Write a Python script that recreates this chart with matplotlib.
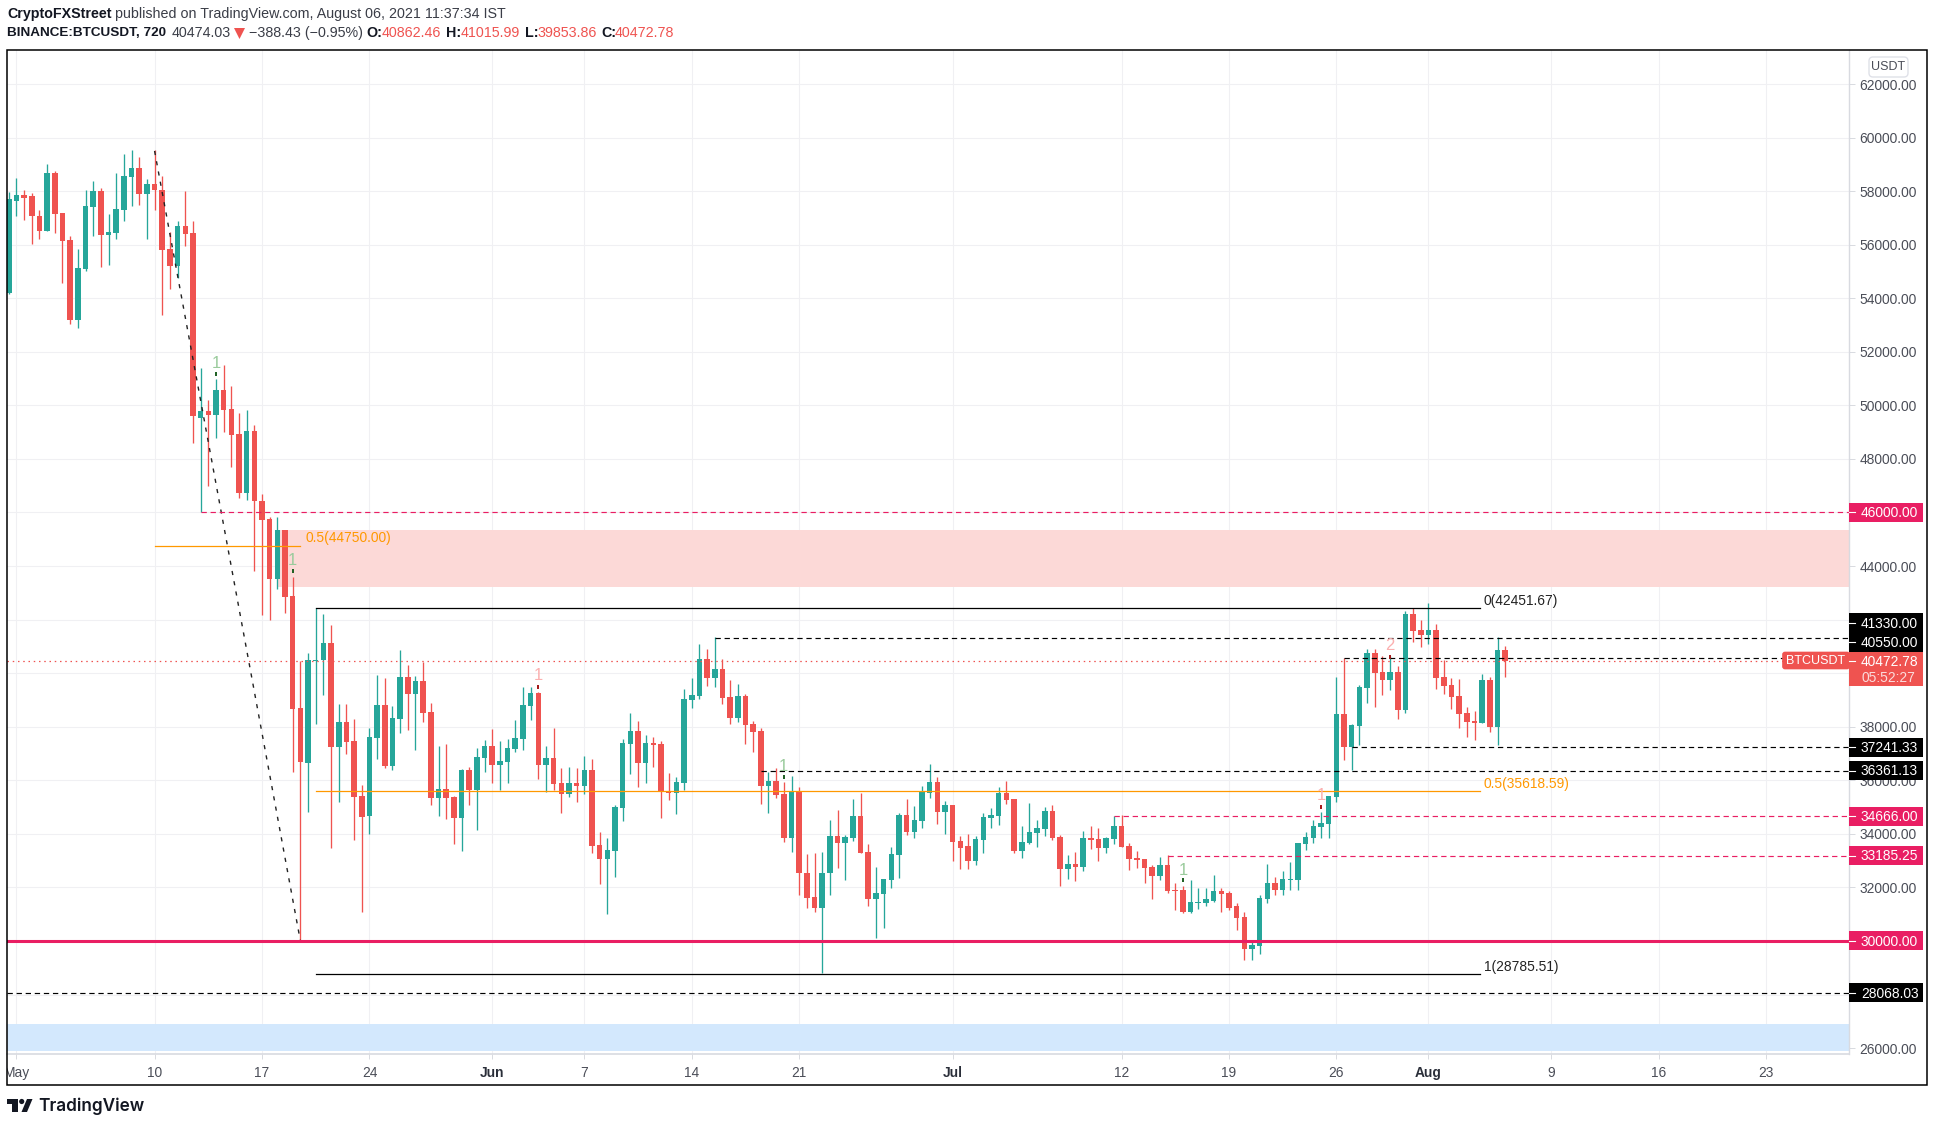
import matplotlib
matplotlib.use("Agg")
import matplotlib.pyplot as plt
from matplotlib.patches import Rectangle, FancyBboxPatch, Circle, Polygon

W, H = 1935, 1127
FONT = "Liberation Sans"
plt.rcParams["font.family"] = [FONT, "DejaVu Sans"]

opens = [54200,57650,57840,57800,57090,56530,58660,57170,56160,53180,55080,57390,57990,56350,56420,57280,58510,58880,57880,58250,
 58060,55830,55190,56680,56420,49530,49790,49640,50570,49870,48930,46730,49040,46420,45760,43530,45340,42880,38690,36640,
 40470,40490,41130,37240,38180,37470,35410,34670,37580,38810,36540,38280,39850,39230,39710,38550,35340,35670,35380,34600,
 36380,35620,36840,37280,36580,36690,37180,37550,38780,39270,36580,36840,35910,35500,35910,35800,36390,33600,33080,33370,
 34980,37360,37850,36660,37400,37360,35610,35540,35910,39000,39150,40530,39820,40160,39120,38330,39150,38110,37850,35800,
 35980,35500,33860,35610,32550,31660,31250,32520,33930,33670,33860,34680,33340,31580,31770,32290,33220,34720,34080,34490,
 35540,35950,34830,35090,33750,33530,33000,33780,34600,34670,35530,35310,33370,33670,34040,34190,34860,33890,32700,32890,
 32780,33850,33820,33480,33820,34300,33560,33110,33070,32780,32440,32850,31920,31920,31100,31400,31400,31510,31850,31810,
 31290,30880,29690,29800,31550,32180,31920,32290,32290,33630,33850,34260,34380,35380,38480,37230,38040,39450,40760,40050,
 39750,40050,38630,42210,41610,41430,41610,39860,39560,39150,38520,38220,38150,39750,38000,40862.46]
highs = [57960,58490,58060,57930,57280,59010,58770,57200,56310,55830,58060,58360,58100,57130,58660,59380,59520,59290,58440,59520,
 58580,56460,56870,57990,56900,51380,50200,50980,51500,50720,49700,49830,49270,46680,45830,45830,45340,43600,40470,40770,
 42450,42210,41800,38850,38850,38280,35820,37950,39920,39810,38770,40870,40300,39900,40400,38880,37280,37350,35410,36410,
 36510,37210,37500,37910,37480,37550,38260,39490,39490,39300,37290,37960,36470,36510,36470,36920,36800,34080,33860,35090,
 37550,38520,38220,37700,37620,37480,36280,36130,39410,39820,41090,40910,41340,40530,39750,39600,39230,38220,37960,36320,
 36470,35950,36170,35760,33260,33300,33340,34530,34900,33970,35310,35540,33640,32780,32330,33520,34790,35310,35050,35800,
 36620,36130,35240,35090,33930,34010,33930,34780,34970,35750,35980,35310,34300,35160,34520,35010,35080,33970,33220,33330,
 34110,34300,34230,33890,34670,34710,33670,33370,33070,32850,33150,33220,32180,32070,32290,31990,31960,32480,31960,31880,
 31400,31100,30020,31700,32890,32400,32630,32960,33670,34080,34520,34820,35420,39840,40550,38110,39560,40910,40910,40650,
 40650,40270,42320,42450,41990,42610,41840,40500,39820,39790,38740,38590,39970,39860,41340,41015.99]
lows = [54175,57090,56910,56010,56200,56500,56420,54560,53030,52880,55010,56310,55160,55230,56200,56870,57430,57500,56200,57280,
 53370,54340,54750,55940,48600,46000,47000,48800,49000,47700,46540,46480,43810,42170,41980,43140,42240,36310,30000,34810,
 38100,39180,33480,35200,36980,33770,31080,34010,36800,36460,36380,37770,37880,37130,38180,35080,34670,34560,33620,33350,
 35080,34130,36310,35910,35650,35910,37070,37140,38260,36060,35550,35650,34790,35390,35200,35500,33300,32110,30990,32400,
 34490,36250,35760,35910,36510,34600,35280,34750,35650,38700,39040,39530,39490,38860,38110,38180,37360,37070,35130,34790,
 35350,33710,33340,31700,31250,31100,28790,31700,32740,32290,33750,33290,31290,30130,30500,31960,32370,33970,33860,34230,
 35350,34380,34000,33000,32700,32700,32850,33300,34230,34340,35120,33300,33110,33630,33520,33930,33780,32070,32330,32250,
 32630,33450,33000,33300,33630,33520,32660,32740,32180,31550,32290,31810,31140,31030,31060,31180,31320,31470,31100,31140,
 30400,29280,29280,29500,31400,31700,31730,31920,31920,33410,33670,33850,33850,35190,36770,36380,37300,38890,38740,39190,
 39380,38300,38520,41170,40980,41090,39410,39230,38670,37960,37620,37500,38150,37810,37320,39853.86]
closes = [57690,57840,57760,57060,56530,58660,57130,56130,53180,55120,57430,57990,56350,56460,57320,58550,58880,57880,58250,58030,
 55790,55190,56680,56390,49610,49790,49640,50570,49830,48910,46730,49040,46420,45710,43530,45340,42840,38650,36680,40490,
 40510,41130,37240,38180,37420,35380,34620,37610,38810,36540,38320,39850,39230,39710,38510,35340,35670,35340,34600,36380,
 35620,36870,37280,36580,36730,37210,37590,38820,39270,36580,36840,35870,35500,35910,35800,36390,33560,33080,33410,35010,
 37400,37850,36660,37400,37330,35570,35540,35950,39040,39190,40530,39820,40160,39080,38330,39150,38070,37810,35800,35980,
 35460,33860,35610,32520,31620,31250,32550,33930,33670,33900,34680,33290,31580,31810,32330,33260,34720,34080,34530,35570,
 35950,34830,35090,33710,33490,33000,33820,34640,34710,35530,35270,33370,33710,34080,34230,34860,33850,32700,32890,32780,
 33850,33780,33480,33850,34300,33520,33070,33040,32740,32440,32850,31880,31880,31100,31440,31440,31550,31850,31770,31250,
 30840,29690,29840,31590,32180,31920,32330,32330,33670,33890,34300,34410,35420,38480,37230,38070,39490,40760,40010,39750,
 40050,38630,42210,41580,41430,41610,39820,39530,39120,38480,38180,38150,39750,38000,40870,40472.78]

y_ticks = [26000,28000,30000,32000,34000,36000,38000,40000,42000,44000,46000,48000,50000,52000,54000,56000,58000,60000,62000]
x_tick_pos = [1,19,33,47,63,75,89,103,123,145,159,173,185,201,215,229]
x_tick_txt = ["May","10","17","24","Jun","7","14","21","Jul","12","19","26","Aug","9","16","23"]
months = {"May","Jun","Jul","Aug"}

last_price = 40472.78
pink_zone = (43200, 45350)
blue_zone = (25890, 26900)
trend_x, trend_y = [19, 38], [59500, 30000]
fib1_half = 44750.00
fib2_levels = [42451.67, 35618.59, 28785.51]
fib2_names = ["0(42451.67)", "0.5(35618.59)", "1(28785.51)"]
level_start = {46000.00:25, 41330.00:92, 40550.00:174, 37241.33:175, 36361.13:98, 34666.00:144, 33185.25:151}
level_color = {46000.00:"p", 41330.00:"k", 40550.00:"k", 37241.33:"k", 36361.13:"k", 34666.00:"p", 33185.25:"p"}
support_strong = 30000.00
support_far = 28068.03
seq_idx = [27, 37, 69, 101, 153, 171, 180]
seq_txt = ["1","1","1","1","1","1","2"]
seq_y = [51570, 44200, 39930, 36530, 32650, 35450, 41020]
seq_tick = [51180, 43830, 39480, 36120, 32280, 35000, 40610]
seq_col = ["g","g","r","g","g","r","r"]

GREEN, RED = "#26a69a", "#ef5350"
PINK, ORANGE = "#e91e63", "#ff9800"
GRID = "#f0f0f3"
AX_C = "#d8dae0"
TXT = "#4a4d57"
FS = 9.9

fig = plt.figure(figsize=(W/100, H/100), dpi=100, facecolor="white")
L, R, T, B = 7, 1849, 50, 1054
ax = fig.add_axes([L/W, 1-B/H, (R-L)/W, (B-T)/H])
ax.set_facecolor("white")
ax.set_xlim(-0.23, 239.8)
ax.set_ylim(25780, 63270)
for s in ax.spines.values():
    s.set_visible(False)
ax.spines["bottom"].set_visible(True); ax.spines["bottom"].set_color(AX_C); ax.spines["bottom"].set_linewidth(1.2)
ax.spines["right"].set_visible(True); ax.spines["right"].set_color(AX_C); ax.spines["right"].set_linewidth(1.0)
ax.set_axisbelow(True)
ax.yaxis.tick_right()
ax.set_yticks(y_ticks)
ax.set_yticklabels([f"{v:.2f}" for v in y_ticks], fontsize=FS, color=TXT)
ax.set_xticks(x_tick_pos)
ax.set_xticklabels(x_tick_txt, fontsize=FS, color=TXT)
for lab in ax.get_xticklabels():
    if lab.get_text() in months and lab.get_text() != "May":
        lab.set_fontweight("bold"); lab.set_color("#2a2e39")
ax.tick_params(axis="y", length=4.3, width=0.7, color=AX_C, pad=3.4)
ax.tick_params(axis="x", length=3.6, width=0.7, color=AX_C, pad=5.0)
ax.grid(True, color=GRID, lw=0.8)

ax.axhspan(*pink_zone, xmin=(35+0.23)/240.03, color="#fcd9d7", lw=0, zorder=1)
ax.axhspan(*blue_zone, color="#d3e8fd", lw=0, zorder=1)

idx = list(range(len(opens)))
cols = [GREEN if c >= o else RED for o, c in zip(opens, closes)]
ax.vlines(idx, lows, highs, colors=cols, lw=0.95, zorder=3)
ax.bar(idx, [abs(c-o) for o, c in zip(opens, closes)], bottom=[min(o, c) for o, c in zip(opens, closes)],
       width=0.72, color=cols, lw=0, zorder=4)

DASH = (0, (4.5, 3.2))
ax.axhline(last_price, color=RED, lw=0.9, ls=(0, (1.2, 3)), zorder=5)
ax.plot(trend_x, trend_y, color="#222222", lw=1.0, ls=(0, (3, 4.5)), zorder=5)
ax.plot(trend_x, [fib1_half, fib1_half], color=ORANGE, lw=0.9, zorder=5)
ax.text(38.7, fib1_half + 300, f"0.5({fib1_half:.2f})", color=ORANGE, fontsize=FS, va="center", zorder=6)
for lev, name, col in zip(fib2_levels, fib2_names, ["black", ORANGE, "black"]):
    ax.plot([40, 191.7], [lev, lev], color=col, lw=0.9, zorder=5)
    ax.text(192.2, lev + 240, name, color=("#222222" if col == "black" else ORANGE), fontsize=FS, va="center", zorder=6)
for lev, st in level_start.items():
    col = PINK if level_color[lev] == "p" else "black"
    ax.plot([st, 239.8], [lev, lev], color=col, lw=0.85, ls=DASH, zorder=5)
ax.axhline(support_strong, color=PINK, lw=2.2, zorder=6)
ax.axhline(support_far, color="black", lw=0.85, ls=DASH, zorder=5)

for i, t, y, yt, c in zip(seq_idx, seq_txt, seq_y, seq_tick, seq_col):
    light, dark = ("#9acb9c", "#1b5e20") if c == "g" else ("#fbb0b0", "#a31515")
    ax.text(i, y, t, color=light, fontsize=12, ha="center", va="center", zorder=7)
    ax.plot([i], [yt], marker="|", ms=3, mew=1.4, color=dark, zorder=7)

# chrome layer in figure pixels
ov = fig.add_axes([0, 0, 1, 1], facecolor="none")
ov.set_xlim(0, W); ov.set_ylim(H, 0); ov.axis("off")

def py(p):
    yb = ax.transData.transform((0, p))[1]
    return H - yb

def tag(yc, txt, bg, h=19):
    ov.add_patch(Rectangle((R, yc-h/2), 74, h, fc=bg, ec="none", zorder=5))
    ov.plot([R, R+6], [yc, yc], color="white", lw=0.8, zorder=6)
    ov.text(1861, yc+0.8, txt, color="white", fontsize=FS, va="center", ha="left", zorder=6)

tag(py(46000), "46000.00", PINK)
tag(623, "41330.00", "black", 20)
tag(642, "40550.00", "black", 19)
tag(661, "40472.78", RED, 19)
ov.add_patch(Rectangle((R, 670), 74, 16, fc=RED, ec="none", zorder=5))
ov.text(1861, 678.5, "05:52:27", color="#fbdcdc", fontsize=FS, va="center", ha="left", zorder=6)
ov.add_patch(FancyBboxPatch((1783, 652.5), 66, 16, boxstyle="round,pad=0,rounding_size=2", fc=RED, ec=RED, lw=1.2, zorder=5))
ov.text(1815.5, 661.5, "BTCUSDT", color="white", fontsize=9.0, va="center", ha="center", zorder=6)
tag(py(37241.33), "37241.33", "black")
tag(py(36361.13), "36361.13", "black")
tag(py(34666.00), "34666.00", PINK)
tag(py(33185.25), "33185.25", PINK)
tag(py(30000.00), "30000.00", PINK)
tag(py(28068.03), "28068.03", "black")

ov.add_patch(FancyBboxPatch((1869, 57), 39, 20, boxstyle="round,pad=0,rounding_size=4", fc="white", ec="#dfe1e8", lw=1.0, zorder=5))
ov.text(1888.5, 67, "USDT", color=TXT, fontsize=9.0, ha="center", va="center", zorder=6)

# mask left of the frame (clips "May") and outer frame
ov.add_patch(Rectangle((0, 1056), 7, 28, fc="white", ec="none", zorder=7))
ov.add_patch(Rectangle((7, 50), 1920, 1035, fc="none", ec="black", lw=1.1, zorder=8))

def head(x, y, s, col="#131722", bold=False, fs=10.25):
    ov.text(x, y, s, color=col, fontsize=fs, fontweight=("bold" if bold else "normal"), va="center", ha="left")

head(7, 14, "CryptoFXStreet", bold=True)
head(115, 14, "published on TradingView.com, August 06, 2021 11:37:34 IST", col="#3a3d47")
head(7, 33, "BINANCE:BTCUSDT, 720", bold=True, fs=9.7)
head(172, 33, "40474.03", col="#3a3d47")
ov.add_patch(Polygon([(234, 28), (245, 28), (239.5, 39)], fc=RED, ec="none"))
head(249, 33, "\u2212388.43 (\u22120.95%)", col="#3a3d47")
for xl, lb, xv, v in [(366, "O:", 382, "40862.46"), (446, "H:", 461, "41015.99"),
                      (525, "L:", 537, "39853.86"), (601, "C:", 615, "40472.78")]:
    head(xl, 33, lb, bold=True)
    head(xv, 33, v, col=RED)

# TradingView mark
dark = "#131722"
ov.add_patch(Polygon([(7, 1099), (18, 1099), (18, 1112), (12, 1112), (12, 1104), (7, 1104)], fc=dark, ec="none"))
ov.add_patch(Circle((21.7, 1101.5), 2.6, fc=dark, ec="none"))
ov.add_patch(Polygon([(27, 1099), (32.5, 1099), (27, 1112), (21.5, 1112)], fc=dark, ec="none"))
ov.text(38, 1106, "TradingView", color=dark, fontsize=12.4, family="Inter", fontweight="semibold", va="center", ha="left")

fig.savefig("out.png", dpi=100)
